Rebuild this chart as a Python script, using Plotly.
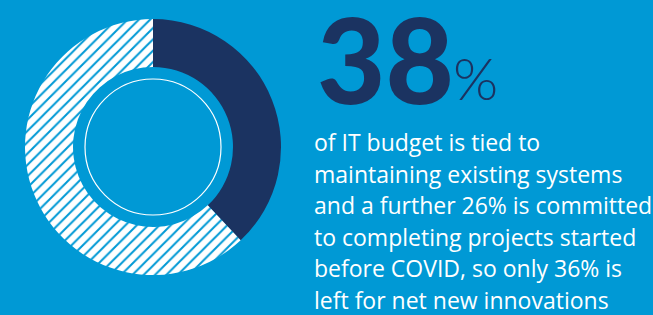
import plotly.graph_objects as go

W, H = 653, 315
BG = "#0099D5"
NAVY = "#1B3361"

labels = ["Maintaining existing systems", "Everything else"]
values = [38, 62]
headline_value = "38"
headline_unit = "%"
body_lines = [
    "of IT budget is tied to",
    "maintaining existing systems",
    "and a further 26% is committed",
    "to completing projects started",
    "before COVID, so only 36% is",
    "left for net new innovations",
]

cx, cy, R = 153, 147, 128
hole = 80 / 128
r_ring = 68

def px(x):
    return x / W

def py(y):
    return (H - y) / H

fig = go.Figure()
fig.add_trace(go.Pie(
    labels=labels, values=values, sort=False, direction="clockwise", rotation=0,
    hole=hole, textinfo="none", hoverinfo="label+percent", showlegend=False,
    marker=dict(colors=[NAVY, "white"], line=dict(width=0),
                pattern=dict(shape=["", "/"], fgcolor=[NAVY, BG], bgcolor=[NAVY, "white"],
                             size=8, solidity=0.25, fillmode="replace")),
    domain=dict(x=[px(cx - R), px(cx + R)], y=[py(cy + R), py(cy - R)]),
))

fig.add_shape(type="circle", xref="paper", yref="paper",
              x0=px(cx - r_ring), x1=px(cx + r_ring),
              y0=py(cy + r_ring), y1=py(cy - r_ring),
              line=dict(color="white", width=1.2))

fig.add_annotation(text=headline_value, xref="paper", yref="paper",
                   x=px(315), y=py(108), xanchor="left", yanchor="bottom",
                   height=96, valign="middle",
                   showarrow=False,
                   font=dict(family="Lato", size=118, color=NAVY, weight=900))
fig.add_annotation(text=headline_unit, xref="paper", yref="paper",
                   x=px(451), y=py(114), xanchor="left", yanchor="bottom",
                   showarrow=False,
                   font=dict(family="Lato", size=58, color=NAVY, weight=300))

base0, step = 152, 31.6
for i, line in enumerate(body_lines):
    fig.add_annotation(text=line, xref="paper", yref="paper",
                       x=px(312), y=py(base0 + i * step + 8), xanchor="left",
                       yanchor="bottom", showarrow=False,
                       font=dict(family="Open Sans", size=23, color="white"))

fig.update_layout(width=W, height=H, margin=dict(l=0, r=0, t=0, b=0),
                  paper_bgcolor=BG, plot_bgcolor=BG)
fig.write_html("out.html", config={"displayModeBar": False},
               post_script="document.body.style.margin='0';document.body.style.background='%s';" % BG)
